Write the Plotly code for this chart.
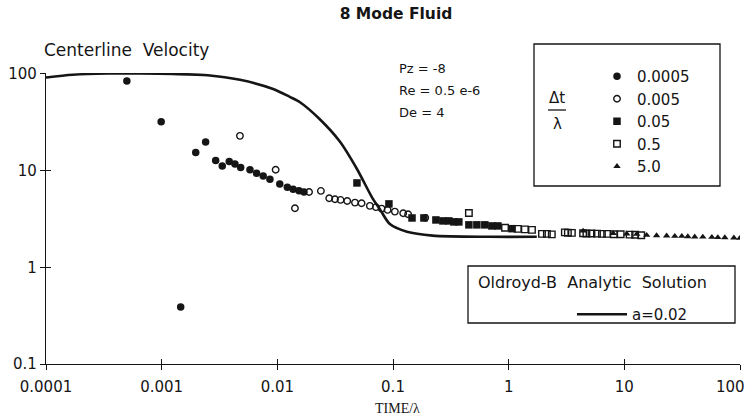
import plotly.graph_objects as go

# ---------------- data ----------------
t_0005 = [0.0005, 0.00099, 0.00146, 0.00197, 0.0024, 0.00293, 0.00334, 0.00384, 0.0043,
          0.00482, 0.0058, 0.00662, 0.00755, 0.00863, 0.0105, 0.0122, 0.0137, 0.0154, 0.017]
v_0005 = [84.6, 32.1, 0.389, 15.4, 19.8, 12.7, 11.2, 12.4, 11.7,
          10.8, 10.2, 9.4, 8.8, 8.15, 7.29, 6.73, 6.42, 6.21, 6.02]

t_005 = [0.00475, 0.00967, 0.0142, 0.0188, 0.0238, 0.0281, 0.0315, 0.0352, 0.0402, 0.0469,
         0.0535, 0.0631, 0.0712, 0.0797, 0.0898, 0.1038, 0.1225, 0.135, 0.19]
v_005 = [22.9, 10.2, 4.08, 6.02, 6.17, 5.19, 5.06, 4.98, 4.86, 4.67,
         4.60, 4.32, 4.19, 4.05, 3.93, 3.77, 3.63, 3.54, 3.25]

t_05 = [0.0488, 0.0922, 0.146, 0.185, 0.235, 0.270, 0.304, 0.336, 0.371, 0.453,
        0.531, 0.622, 0.716, 0.807, 1.07]
v_05 = [7.46, 4.53, 3.24, 3.24, 3.09, 3.02, 3.02, 2.95, 2.95, 2.75,
        2.75, 2.75, 2.68, 2.68, 2.51]

t_5 = [0.453, 0.93, 1.2, 1.38, 1.59, 1.94, 2.14, 2.36, 3.06, 3.25, 3.52, 4.4, 4.7,
       5.2, 5.8, 6.4, 7.1, 8.1, 9.3, 11.1, 12.4, 14.0]
v_5 = [3.65, 2.57, 2.5, 2.47, 2.44, 2.22, 2.22, 2.19, 2.3, 2.28, 2.27, 2.25, 2.24,
       2.24, 2.23, 2.22, 2.22, 2.2, 2.2, 2.18, 2.17, 2.15]

t_50 = [4.4, 8.0, 10.5, 12.8, 15.6, 19.0, 23.2, 27.3, 31.4, 35.4, 40.6, 47.7, 57.1,
        64.3, 73.9, 88.5, 99.6]
v_50 = [2.38, 2.25, 2.22, 2.2, 2.15, 2.13, 2.12, 2.1, 2.1, 2.08, 2.07, 2.06, 2.05,
        2.04, 2.03, 2.02, 2.0]

t_an = [1.0e-4, 1.7e-4, 3.4e-4, 6.5e-4, 1.25e-3, 2.5e-3, 4.75e-3, 9.2e-3, 0.0128, 0.0157,
        0.0233, 0.0347, 0.0488, 0.067, 0.077, 0.094, 0.132, 0.22, 0.69, 1.75]
v_an = [92, 98, 101, 101, 100, 97, 87, 70, 58, 51,
        34, 20, 10.4, 5.1, 4.0, 2.8, 2.33, 2.13, 2.07, 2.07]

x_ticks = [0.0001, 0.001, 0.01, 0.1, 1, 10, 100]
x_tick_text = ["0.0001", "0.001", "0.01", "0.1", "1", "10", ""]
last_x_label = "100"   # drawn separately, nudged left so it stays inside the page
y_ticks = [0.1, 1, 10, 100]
y_tick_text = ["0.1", "1", "10", "100"]

series_labels = ["0.0005", "0.005", "0.05", "0.5", "5.0"]

# ---------------- styling ----------------
INK = "#151515"
SANS = "DejaVu Sans"
SERIF = "Liberation Serif"

W, H = 749, 420
L, R, T, B = 46, 9, 73, 56
PW, PH = W - L - R, H - T - B


def px(x):
    return (x - L) / PW


def py(y):
    return (H - B - y) / PH


fig = go.Figure()

series = [
    (t_0005, v_0005, dict(symbol="circle", size=7.5, color=INK)),
    (t_005, v_005, dict(symbol="circle-open", size=6.5, color=INK, line=dict(width=1.4, color=INK))),
    (t_05, v_05, dict(symbol="square", size=7.5, color=INK)),
    (t_5, v_5, dict(symbol="square-open", size=6.5, color=INK, line=dict(width=1.4, color=INK))),
    (t_50, v_50, dict(symbol="triangle-up", size=6.5, color=INK)),
]
for (xs, ys, mk), lab in zip(series, series_labels):
    fig.add_trace(go.Scatter(x=xs, y=ys, mode="markers", marker=mk, name=lab,
                             legendgroup=lab, legend="legend"))

fig.add_trace(go.Scatter(x=t_an, y=v_an, mode="lines", name="a=0.02",
                         line=dict(color=INK, width=2.6, shape="spline", smoothing=0.8),
                         legend="legend2"))

# blank trace for the overlay axes (inside tick marks)
fig.add_trace(go.Scatter(x=[], y=[], xaxis="x2", yaxis="y2", showlegend=False, hoverinfo="skip"))

common_x = dict(type="log", range=[-4, 2], tickvals=x_ticks, showgrid=False, zeroline=False,
                automargin=False)
common_y = dict(type="log", range=[-1, 2.01], tickvals=y_ticks, showgrid=False, zeroline=False,
                automargin=False)

fig.update_layout(
    width=W, height=H,
    margin=dict(l=L, r=R, t=T, b=B, pad=0, autoexpand=False),
    paper_bgcolor="white", plot_bgcolor="white",
    font=dict(family=SANS, color=INK, size=15),
    title=dict(text="<b>8 Mode Fluid</b>", x=px(396), xref="paper", xanchor="center",
               y=1 - 14 / H, yref="container", yanchor="middle",
               font=dict(family=SANS, size=15.5, color=INK)),
    xaxis=dict(**common_x, ticktext=x_tick_text, showline=True, linecolor=INK, linewidth=1.3,
               ticks="outside", ticklen=5, tickwidth=1.2, tickcolor=INK,
               tickfont=dict(family=SANS, size=15, color=INK), ticklabelstandoff=4,
               ticklabeloverflow="allow"),
    yaxis=dict(**common_y, ticktext=y_tick_text, showline=True, linecolor=INK, linewidth=1.3,
               ticks="outside", ticklen=5, tickwidth=1.2, tickcolor=INK,
               tickfont=dict(family=SANS, size=15, color=INK)),
    xaxis2=dict(**common_x, overlaying="x", anchor="y2", side="bottom", showline=False,
                ticks="inside", ticklen=5, tickwidth=1.2, tickcolor=INK, showticklabels=False),
    yaxis2=dict(**common_y, overlaying="y", anchor="x2", side="left", showline=False,
                ticks="inside", ticklen=5, tickwidth=1.2, tickcolor=INK, showticklabels=False),
    legend=dict(x=px(597), y=py(60), xanchor="left", yanchor="top",
                bgcolor="rgba(0,0,0,0)", borderwidth=0, tracegroupgap=0,
                font=dict(family=SANS, size=15, color=INK), itemclick=False),
    legend2=dict(x=px(572), y=py(298), xanchor="left", yanchor="top",
                 bgcolor="rgba(0,0,0,0)", borderwidth=0, itemwidth=50,
                 font=dict(family=SANS, size=15, color=INK)),
    showlegend=True,
)

# legend frames
fig.add_shape(type="rect", xref="paper", yref="paper",
              x0=px(534), x1=px(720), y0=py(186), y1=py(44),
              line=dict(color=INK, width=1.3), fillcolor="rgba(0,0,0,0)")
fig.add_shape(type="rect", xref="paper", yref="paper",
              x0=px(468), x1=px(735), y0=py(323), y1=py(266),
              line=dict(color=INK, width=1.3), fillcolor="rgba(0,0,0,0)")
# fraction bar of dt / lambda
fig.add_shape(type="line", xref="paper", yref="paper",
              x0=px(548), x1=px(566), y0=py(110), y1=py(110),
              line=dict(color=INK, width=1.3))

ann = [
    dict(text="Centerline\u00a0 Velocity", x=px(42), y=py(50), xanchor="left", size=17),
    dict(text="Pz = -8", x=px(397), y=py(68), xanchor="left", size=13),
    dict(text="Re = 0.5 e-6", x=px(397), y=py(90), xanchor="left", size=13),
    dict(text="De = 4", x=px(397), y=py(112), xanchor="left", size=13),
    dict(text="Δt", x=px(557), y=py(98), xanchor="center", size=15),
    dict(text="λ", x=px(557), y=py(124), xanchor="center", size=15),
    dict(text="Oldroyd-B\u00a0 Analytic\u00a0 Solution", x=px(476), y=py(282), xanchor="left", size=16),
    dict(text=last_x_label, x=px(747), y=py(386.5), xanchor="right", size=15),
]
for a in ann:
    fig.add_annotation(text=a["text"], x=a["x"], y=a["y"], xref="paper", yref="paper",
                       xanchor=a["xanchor"], yanchor="middle", showarrow=False,
                       font=dict(family=SANS, size=a["size"], color=INK))

fig.add_annotation(text="TIME/λ", x=px(397), y=py(408), xref="paper", yref="paper",
                   xanchor="center", yanchor="middle", showarrow=False,
                   font=dict(family=SERIF, size=14, color=INK))

fig.write_html("out.html")
